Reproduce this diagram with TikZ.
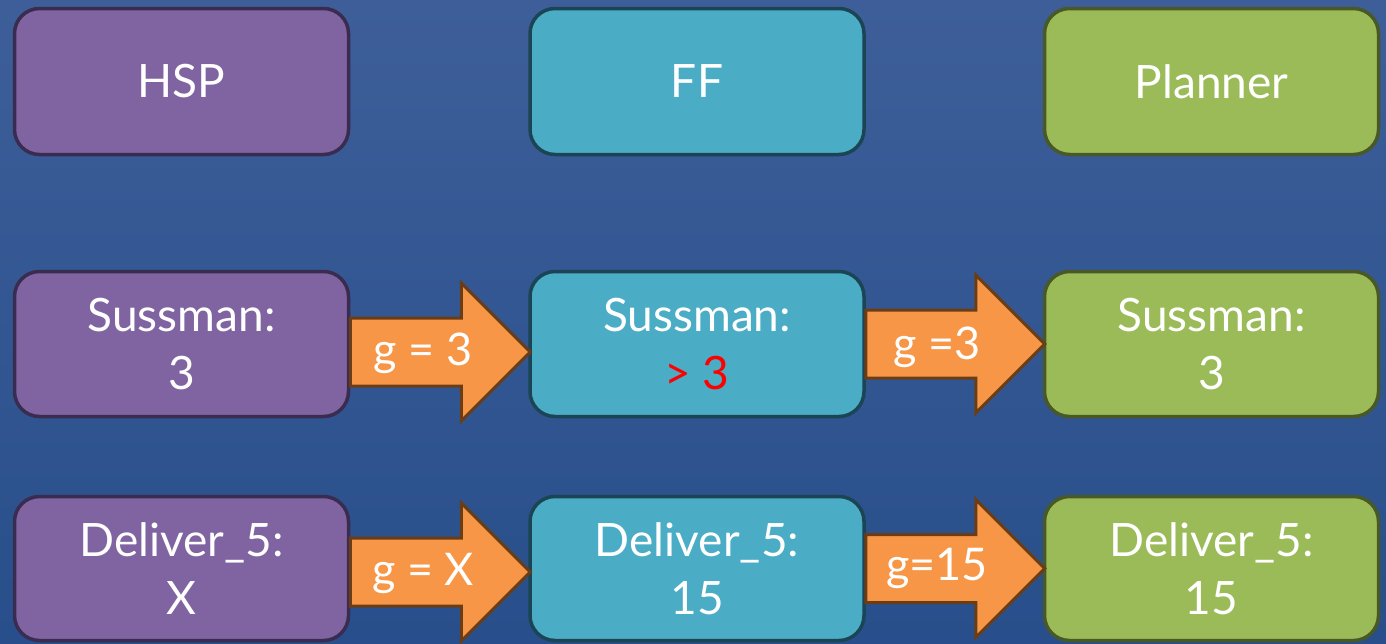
\documentclass[tikz,border=0pt]{standalone}
\usepackage{fontspec}
\setmainfont{Lato}
\usetikzlibrary{calc}
\definecolor{bgtop}{RGB}{61,94,153}
\definecolor{bgbot}{RGB}{40,79,139}
\definecolor{pfill}{RGB}{128,100,162}
\definecolor{pline}{RGB}{58,44,80}
\definecolor{tfill}{RGB}{75,172,198}
\definecolor{tline}{RGB}{27,69,84}
\definecolor{gfill}{RGB}{155,187,89}
\definecolor{gline}{RGB}{72,88,38}
\definecolor{ofill}{RGB}{247,150,70}
\definecolor{oline}{RGB}{107,61,22}
\definecolor{redtxt}{RGB}{255,0,0}
\tikzset{
  box/.style={rounded corners=25pt, line width=3.5pt, minimum width=334pt,
    text=white, align=center, inner sep=0pt,
    font=\fontsize{46}{58}\selectfont},
  hspbox/.style={box, fill=pfill, draw=pline},
  ffbox/.style={box, fill=tfill, draw=tline},
  plbox/.style={box, fill=gfill, draw=gline},
  blockarrow/.style={fill=ofill, draw=oline, line width=3pt, line join=miter},
  arrlabel/.style={text=white, font=\fontsize{45}{52}\selectfont, inner sep=0pt}
}
\newcommand\blockarr[5]{%
  \coordinate (#1s) at (#2.east |- 0,#4);
  \coordinate (#1t) at (#3.west |- 0,#4);
  \draw[blockarrow] ([yshift=34pt]#1s) -- ([xshift=-67pt,yshift=34pt]#1t)
    -- ([xshift=-67pt,yshift=69pt]#1t) -- ([xshift=2pt]#1t)
    -- ([xshift=-67pt,yshift=-69pt]#1t) -- ([xshift=-67pt,yshift=-34pt]#1t)
    -- ([yshift=-34pt]#1s) -- cycle;
}
\begin{document}
\begin{tikzpicture}[x=1pt,y=-1pt]
\shade[top color=bgtop, bottom color=bgbot] (0,0) rectangle (1386,643);
\useasboundingbox (0,0) rectangle (1386,643);
% row 1
\node[hspbox, minimum height=146pt] (hsp) at (181.5,81.5) {HSP};
\node[ffbox, minimum height=146pt] (ff) at (697,81.5) {FF};
\node[plbox, minimum height=146pt] (pl) at (1211.5,81.5) {Planner};
% row 2
\node[hspbox, minimum height=145pt] (hsps) at (181.5,344) {Sussman:\\3};
\node[ffbox, minimum height=145pt] (ffs) at (697,344) {Sussman:\\\textcolor{redtxt}{> 3}};
\node[plbox, minimum height=145pt] (pls) at (1211.5,344) {Sussman:\\3};
% row 3
\node[hspbox, minimum height=144pt] (hspd) at (181.5,568.5) {Deliver\_5:\\X};
\node[ffbox, minimum height=144pt] (ffd) at (697,568.5) {Deliver\_5:\\15};
\node[plbox, minimum height=144pt] (pld) at (1211.5,568.5) {Deliver\_5:\\15};
% arrows
\blockarr{a1}{hsps}{ffs}{352}{}
\blockarr{a2}{ffs}{pls}{344}{}
\blockarr{a3}{hspd}{ffd}{572}{}
\blockarr{a4}{ffd}{pld}{568.5}{}
\node[arrlabel] (l1) at (423,353) {g = 3};
\node[arrlabel] (l2) at (937,347) {g =3};
\node[arrlabel] (l3) at (423,573) {g = X};
\node[arrlabel] (l4) at (937,568) {g=15};
\end{tikzpicture}
\end{document}
